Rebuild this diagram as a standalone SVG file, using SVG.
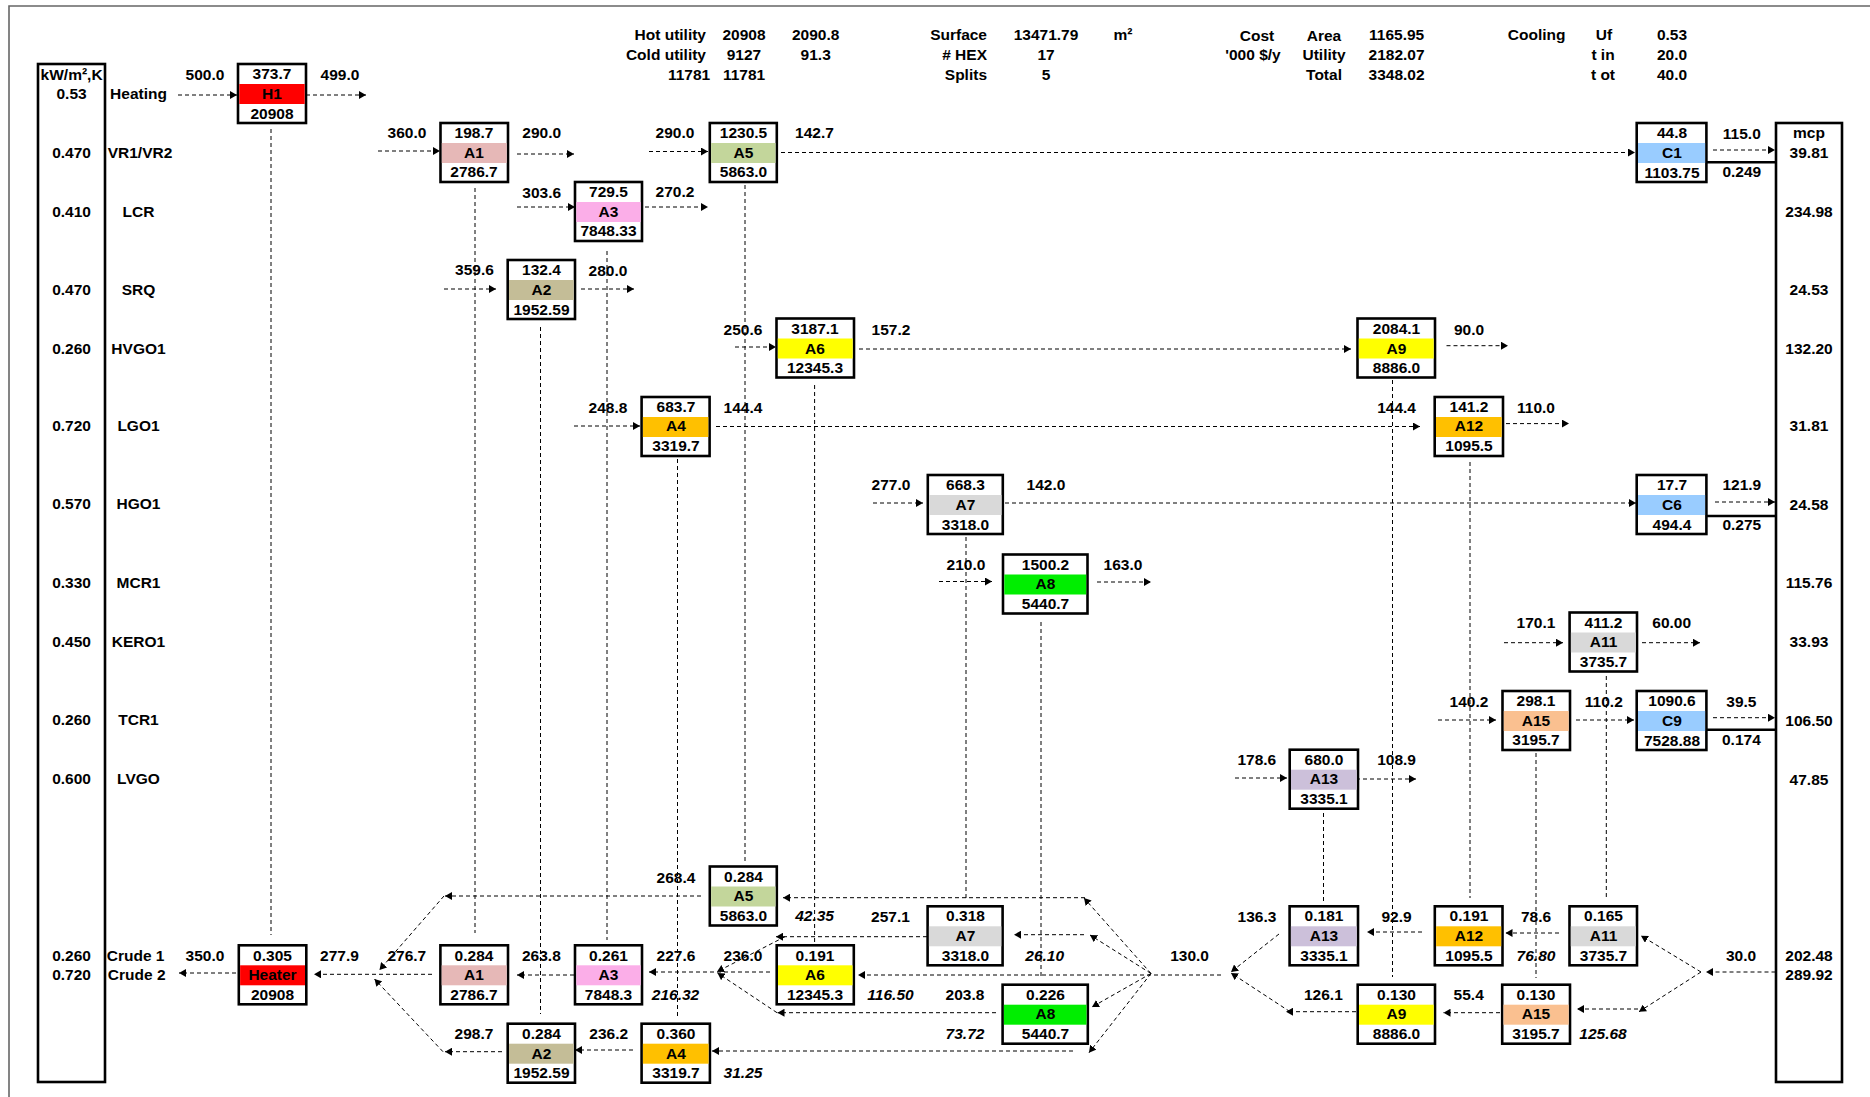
<svg xmlns="http://www.w3.org/2000/svg" width="1870" height="1097" viewBox="0 0 1870 1097">
<style>
text{font-family:"Liberation Sans",Arial,sans-serif;font-weight:bold;font-size:15.5px;fill:#000;text-anchor:middle;dominant-baseline:central;transform:translateY(-1px)}
.e{text-anchor:end}
.i{font-style:italic}
.b{fill:#fff;stroke:#000;stroke-width:2.6}
.c{fill:none;stroke:#000;stroke-width:1;stroke-dasharray:4 3}
.a{marker-end:url(#ah)}
.t{fill:none;stroke:#000;stroke-width:2.6}
</style>
<defs><marker id="ah" markerUnits="userSpaceOnUse" markerWidth="8" markerHeight="8" refX="7" refY="4" orient="auto"><path d="M0 0L7 4L0 8Z" fill="#000"/></marker></defs>
<rect width="1870" height="1097" fill="#fff"/>
<path d="M9 1097V6H1870" fill="none" stroke="#666" stroke-width="1.6"/>
<g id="connectors">
<g class="c">
<path d="M271 129V935M475 188V933M607 251V940M540.5 327V1014M745 185V862M677.5 459V1019M814.6 385V943M966 537V901M1041 622V977M1323.5 813V904M1392.5 380V977M1470 462V898M1536 753V978M1606.3 676V898"/>
</g>
<g class="c a">
<path class="c a" d="M178 95H237"/><path class="c a" d="M306 95H366"/>
<path class="c a" d="M378 151H440"/><path class="c a" d="M517 154H574"/>
<path class="c a" d="M517 207H575"/><path class="c a" d="M645 207H708"/>
<path class="c a" d="M444 289H496"/><path class="c a" d="M581 289H634"/>
<path class="c a" d="M649 151.500H708"/><path class="c a" d="M781 152.500H1635"/><path class="c a" d="M1713 150H1775"/>
<path class="c a" d="M735 347H776"/><path class="c a" d="M859 349H1351"/><path class="c a" d="M1446.500 345.700H1508"/>
<path class="c a" d="M574 426H640"/><path class="c a" d="M716 426.500H1420"/><path class="c a" d="M1506 423.600H1569"/>
<path class="c a" d="M873 503H923"/><path class="c a" d="M1005 503H1636"/><path class="c a" d="M1715 502H1775"/>
<path class="c a" d="M939 581.500H992"/><path class="c a" d="M1097 582H1151"/>
<path class="c a" d="M1504 642.700H1563"/><path class="c a" d="M1642 642.700H1700"/>
<path class="c a" d="M1438 720H1496"/><path class="c a" d="M1576 720H1634"/><path class="c a" d="M1713 717.700H1775"/>
<path class="c a" d="M1235 778H1287"/><path class="c a" d="M1356 779H1416"/>
<path class="c a" d="M236 973H179"/><path class="c a" d="M432 974.300H314"/><path class="c a" d="M574 975H517"/>
<path class="c a" d="M701 896H445"/><path class="c a" d="M444 896L379.500 970"/>
<path class="c a" d="M502 1051.700H445"/><path class="c a" d="M443 1051.700L374.500 979"/>
<path class="c a" d="M633 1050H575"/>
<path class="c a" d="M1085 897.700H783"/><path class="c a" d="M1151 973.500L1084 898"/>
<path class="c a" d="M1084 934.700H1014"/><path class="c a" d="M1151 973.500L1090 935"/>
<path class="c a" d="M1221 975H858"/><path class="c a" d="M1151 973.500L1092 1007"/>
<path class="c a" d="M1073 1051H712"/><path class="c a" d="M1151 973.500L1089 1052.700"/>
<path class="c a" d="M927 936.700H776"/><path class="c a" d="M785 936.700L717 971.700"/>
<path class="c a" d="M770 972H649"/>
<path class="c a" d="M996 1012.700H777.500"/><path class="c a" d="M777 1012.700L717.500 973"/>
<path class="c a" d="M1279 934L1231 972"/>
<path class="c a" d="M1356 1011.700H1286"/><path class="c a" d="M1290 1011.700L1231 973"/>
<path class="c a" d="M1422 932H1367"/><path class="c a" d="M1559 933H1505.500"/><path class="c a" d="M1500 1012.700H1443.500"/>
<path class="c a" d="M1775.500 972H1706"/><path class="c a" d="M1701 972L1641 935.700"/><path class="c a" d="M1701 972L1639 1011.700"/>
<path class="c a" d="M1638 1009H1577"/>
</g>
<path class="t" d="M1706 162.300H1776M1706 516H1776M1706 729.700H1776"/>
</g>
<g id="col-left"><rect class="b" x="38" y="64" width="67" height="1018"/>
<text x="71.600" y="75">kW/m²,K</text><text x="71.600" y="94">0.53</text><text x="71.600" y="153">0.470</text><text x="71.600" y="212">0.410</text><text x="71.600" y="290">0.470</text><text x="71.600" y="349">0.260</text><text x="71.600" y="426.500">0.720</text><text x="71.600" y="504.500">0.570</text><text x="71.600" y="583">0.330</text><text x="71.600" y="642">0.450</text><text x="71.600" y="720.500">0.260</text><text x="71.600" y="779.500">0.600</text><text x="71.600" y="956">0.260</text><text x="71.600" y="975">0.720</text></g>
<g id="col-right"><rect class="b" x="1776" y="123" width="66" height="959"/>
<text x="1809" y="133">mcp</text><text x="1809" y="153">39.81</text><text x="1809" y="212">234.98</text><text x="1809" y="290">24.53</text><text x="1809" y="349">132.20</text><text x="1809" y="426.500">31.81</text><text x="1809" y="505">24.58</text><text x="1809" y="583">115.76</text><text x="1809" y="642.500">33.93</text><text x="1809" y="721">106.50</text><text x="1809" y="780">47.85</text><text x="1809" y="956">202.48</text><text x="1809" y="975">289.92</text></g>
<g id="stream-names"><text x="138.500" y="94">Heating</text><text x="140" y="153">VR1/VR2</text><text x="138.500" y="212">LCR</text><text x="138.500" y="290">SRQ</text><text x="138.500" y="349">HVGO1</text><text x="138.500" y="426.500">LGO1</text><text x="138.500" y="504.500">HGO1</text><text x="138.500" y="583">MCR1</text><text x="138.500" y="642">KERO1</text><text x="138.500" y="720.500">TCR1</text><text x="138.500" y="779.500">LVGO</text><text x="135.600" y="956">Crude 1</text><text x="136.700" y="975">Crude 2</text></g>
<g id="summary">
<text class="e" x="706" y="35">Hot utility</text><text class="e" x="706" y="55">Cold utility</text><text x="689" y="75">11781</text>
<text x="744" y="35">20908</text><text x="744" y="55">9127</text><text x="744" y="75">11781</text><text x="815.700" y="35">2090.8</text><text x="815.700" y="55">91.3</text>
<text class="e" x="987" y="35">Surface</text><text class="e" x="987" y="55"># HEX</text><text class="e" x="987" y="75">Splits</text>
<text x="1046" y="35">13471.79</text><text x="1046" y="55">17</text><text x="1046" y="75">5</text><text x="1123" y="35">m²</text>
<text x="1257" y="36">Cost</text><text x="1253" y="55">'000 $/y</text><text x="1324" y="36">Area</text><text x="1324" y="55">Utility</text><text x="1324" y="75">Total</text>
<text x="1396.600" y="35">1165.95</text><text x="1396.600" y="55">2182.07</text><text x="1396.600" y="75">3348.02</text>
<text x="1536.700" y="35">Cooling</text><text x="1604" y="35">Uf</text><text x="1603" y="55">t in</text><text x="1603" y="75">t ot</text>
<text x="1672" y="35">0.53</text><text x="1672" y="55">20.0</text><text x="1672" y="75">40.0</text>
</g>
<g id="H1"><rect class="b" x="238" y="64" width="68" height="59"/><rect x="239.300" y="84" width="65.400" height="20" fill="#ff0000"/><text x="272" y="74.500">373.7</text><text x="272" y="94">H1</text><text x="272" y="114">20908</text></g>
<g id="A1-hot"><rect class="b" x="440.500" y="123" width="67.500" height="59"/><rect x="441.800" y="143" width="64.900" height="20" fill="#e6b8b7"/><text x="474" y="133">198.7</text><text x="474" y="153">A1</text><text x="474" y="172.500">2786.7</text></g>
<g id="A3-hot"><rect class="b" x="575" y="182" width="67" height="59"/><rect x="576.300" y="202" width="64.400" height="20" fill="#fbaee8"/><text x="608.500" y="192">729.5</text><text x="608.500" y="212">A3</text><text x="608.500" y="231.500">7848.33</text></g>
<g id="A2-hot"><rect class="b" x="507.700" y="260" width="67.300" height="59"/><rect x="509" y="280" width="64.700" height="20" fill="#c4bd97"/><text x="541.500" y="270">132.4</text><text x="541.500" y="290">A2</text><text x="541.500" y="310">1952.59</text></g>
<g id="A5-hot"><rect class="b" x="709.800" y="123" width="67" height="59"/><rect x="711.100" y="143" width="64.400" height="20" fill="#c3d69b"/><text x="743.500" y="133">1230.5</text><text x="743.500" y="153">A5</text><text x="743.500" y="172.500">5863.0</text></g>
<g id="C1"><rect class="b" x="1636.700" y="123" width="69.700" height="59"/><rect x="1638" y="143" width="67.100" height="20" fill="#99ccff"/><text x="1672" y="133">44.8</text><text x="1672" y="153">C1</text><text x="1672" y="173">1103.75</text></g>
<g id="A6-hot"><rect class="b" x="776.500" y="318.500" width="77.500" height="59"/><rect x="777.800" y="338.500" width="74.900" height="20" fill="#ffff00"/><text x="815" y="329">3187.1</text><text x="815" y="349">A6</text><text x="815" y="368.500">12345.3</text></g>
<g id="A9-hot"><rect class="b" x="1357.500" y="318.500" width="77.500" height="59"/><rect x="1358.800" y="338.500" width="74.900" height="20" fill="#ffff00"/><text x="1396.500" y="329">2084.1</text><text x="1396.500" y="349">A9</text><text x="1396.500" y="368.500">8886.0</text></g>
<g id="A4-hot"><rect class="b" x="641.600" y="397" width="68" height="59"/><rect x="642.900" y="417" width="65.400" height="20" fill="#ffc000"/><text x="676" y="407.500">683.7</text><text x="676" y="426.500">A4</text><text x="676" y="446.500">3319.7</text></g>
<g id="A12-hot"><rect class="b" x="1434.700" y="397" width="68.300" height="59"/><rect x="1436" y="417" width="65.700" height="20" fill="#ffc000"/><text x="1469" y="407.500">141.2</text><text x="1469" y="426.500">A12</text><text x="1469" y="446.500">1095.5</text></g>
<g id="A7-hot"><rect class="b" x="927.800" y="475" width="75" height="59"/><rect x="929.100" y="495" width="72.400" height="20" fill="#d9d9d9"/><text x="965.500" y="485.500">668.3</text><text x="965.500" y="505">A7</text><text x="965.500" y="525">3318.0</text></g>
<g id="C6"><rect class="b" x="1636.700" y="475" width="69.700" height="59"/><rect x="1638" y="495" width="67.100" height="20" fill="#99ccff"/><text x="1672" y="485.500">17.7</text><text x="1672" y="505">C6</text><text x="1672" y="525">494.4</text></g>
<g id="A8-hot"><rect class="b" x="1003" y="554.500" width="84.500" height="59"/><rect x="1004.300" y="574.500" width="81.900" height="20" fill="#00ee00"/><text x="1045.500" y="565">1500.2</text><text x="1045.500" y="584">A8</text><text x="1045.500" y="604">5440.7</text></g>
<g id="A11-hot"><rect class="b" x="1569.600" y="612.500" width="67.400" height="59"/><rect x="1570.900" y="632.500" width="64.800" height="20" fill="#d9d9d9"/><text x="1603.500" y="623">411.2</text><text x="1603.500" y="642.500">A11</text><text x="1603.500" y="662">3735.7</text></g>
<g id="A15-hot"><rect class="b" x="1502.500" y="691" width="67.500" height="59"/><rect x="1503.800" y="711" width="64.900" height="20" fill="#fac090"/><text x="1536" y="701.500">298.1</text><text x="1536" y="721">A15</text><text x="1536" y="740.500">3195.7</text></g>
<g id="C9"><rect class="b" x="1636.700" y="691" width="69.700" height="59"/><rect x="1638" y="711" width="67.100" height="20" fill="#99ccff"/><text x="1672" y="701.500">1090.6</text><text x="1672" y="721">C9</text><text x="1672" y="741">7528.88</text></g>
<g id="A13-hot"><rect class="b" x="1289.700" y="749.700" width="68.300" height="59"/><rect x="1291" y="769.700" width="65.700" height="20" fill="#ccc0da"/><text x="1324" y="760">680.0</text><text x="1324" y="779.500">A13</text><text x="1324" y="799">3335.1</text></g>
<g id="Heater"><rect class="b" x="238.800" y="945.300" width="67.500" height="59"/><rect x="240.100" y="965.300" width="64.900" height="20" fill="#ff0000"/><text x="272.500" y="956">0.305</text><text x="272.500" y="975">Heater</text><text x="272.500" y="995">20908</text></g>
<g id="A1-cold"><rect class="b" x="440.400" y="945.300" width="67.600" height="59"/><rect x="441.700" y="965.300" width="65" height="20" fill="#e6b8b7"/><text x="474" y="956">0.284</text><text x="474" y="975">A1</text><text x="474" y="995">2786.7</text></g>
<g id="A3-cold"><rect class="b" x="575" y="945.300" width="67" height="59"/><rect x="576.300" y="965.300" width="64.400" height="20" fill="#fbaee8"/><text x="608.500" y="956">0.261</text><text x="608.500" y="975">A3</text><text x="608.500" y="995">7848.3</text></g>
<g id="A2-cold"><rect class="b" x="507.700" y="1023.700" width="67.300" height="59"/><rect x="509" y="1043.700" width="64.700" height="20" fill="#c4bd97"/><text x="541.500" y="1034">0.284</text><text x="541.500" y="1054">A2</text><text x="541.500" y="1073">1952.59</text></g>
<g id="A4-cold"><rect class="b" x="641.600" y="1023.700" width="68.300" height="59"/><rect x="642.900" y="1043.700" width="65.700" height="20" fill="#ffc000"/><text x="676" y="1034">0.360</text><text x="676" y="1054">A4</text><text x="676" y="1073">3319.7</text></g>
<g id="A5-cold"><rect class="b" x="709.800" y="866.500" width="67" height="59"/><rect x="711.100" y="886.500" width="64.400" height="20" fill="#c3d69b"/><text x="743.500" y="877">0.284</text><text x="743.500" y="896.500">A5</text><text x="743.500" y="916">5863.0</text></g>
<g id="A6-cold"><rect class="b" x="776.700" y="945.300" width="77.100" height="59"/><rect x="778" y="965.300" width="74.500" height="20" fill="#ffff00"/><text x="815" y="956">0.191</text><text x="815" y="975">A6</text><text x="815" y="995">12345.3</text></g>
<g id="A7-cold"><rect class="b" x="927.600" y="906.300" width="75" height="59"/><rect x="928.900" y="926.300" width="72.400" height="20" fill="#d9d9d9"/><text x="965.500" y="916.500">0.318</text><text x="965.500" y="936">A7</text><text x="965.500" y="956">3318.0</text></g>
<g id="A8-cold"><rect class="b" x="1002.600" y="984.700" width="85.200" height="59"/><rect x="1003.900" y="1004.700" width="82.600" height="20" fill="#00ee00"/><text x="1045.500" y="995">0.226</text><text x="1045.500" y="1014.500">A8</text><text x="1045.500" y="1034">5440.7</text></g>
<g id="A13-cold"><rect class="b" x="1289.600" y="906.300" width="68.400" height="59"/><rect x="1290.900" y="926.300" width="65.800" height="20" fill="#ccc0da"/><text x="1324" y="916.500">0.181</text><text x="1324" y="936">A13</text><text x="1324" y="956">3335.1</text></g>
<g id="A12-cold"><rect class="b" x="1434.800" y="906.300" width="67.700" height="59"/><rect x="1436.100" y="926.300" width="65.100" height="20" fill="#ffc000"/><text x="1469" y="916.500">0.191</text><text x="1469" y="936">A12</text><text x="1469" y="956">1095.5</text></g>
<g id="A11-cold"><rect class="b" x="1569.500" y="906.300" width="67.500" height="59"/><rect x="1570.800" y="926.300" width="64.900" height="20" fill="#d9d9d9"/><text x="1603.500" y="916.500">0.165</text><text x="1603.500" y="936">A11</text><text x="1603.500" y="956">3735.7</text></g>
<g id="A9-cold"><rect class="b" x="1357.700" y="984.700" width="77.300" height="59"/><rect x="1359" y="1004.700" width="74.700" height="20" fill="#ffff00"/><text x="1396.500" y="995">0.130</text><text x="1396.500" y="1014.500">A9</text><text x="1396.500" y="1034">8886.0</text></g>
<g id="A15-cold"><rect class="b" x="1502.200" y="984.700" width="67.800" height="59"/><rect x="1503.500" y="1004.700" width="65.200" height="20" fill="#fac090"/><text x="1536" y="995">0.130</text><text x="1536" y="1014.500">A15</text><text x="1536" y="1034">3195.7</text></g>
<g id="temperatures">
<text x="205" y="75">500.0</text><text x="340" y="75">499.0</text><text x="407" y="133">360.0</text><text x="541.700" y="133">290.0</text><text x="541.700" y="193">303.6</text><text x="474.500" y="270">359.6</text><text x="608" y="271">280.0</text><text x="675" y="192.600">270.2</text><text x="675" y="133.500">290.0</text><text x="814.500" y="133.500">142.7</text><text x="1741.800" y="134">115.0</text><text x="1741.800" y="172">0.249</text>
<text x="743" y="330">250.6</text><text x="891" y="330">157.2</text><text x="1469" y="330">90.0</text><text x="608" y="408">248.8</text><text x="743" y="408">144.4</text><text x="1396.600" y="408">144.4</text><text x="1536" y="408">110.0</text>
<text x="891" y="485.500">277.0</text><text x="1046" y="485.500">142.0</text><text x="1741.800" y="485.500">121.9</text><text x="1741.800" y="525">0.275</text><text x="966" y="565">210.0</text><text x="1123" y="565">163.0</text>
<text x="1536" y="623">170.1</text><text x="1671.700" y="623">60.00</text><text x="1469" y="702">140.2</text><text x="1603.800" y="702">110.2</text><text x="1741.400" y="702">39.5</text><text x="1741.400" y="740">0.174</text><text x="1256.800" y="760">178.6</text><text x="1396.600" y="760">108.9</text>
<text x="205" y="956">350.0</text><text x="339.500" y="956">277.9</text><text x="406.800" y="956">276.7</text><text x="541.400" y="956">263.8</text><text x="474" y="1034">298.7</text><text x="608.700" y="1034">236.2</text>
<text x="676" y="878">268.4</text><text class="i" x="814.600" y="916">42.35</text><text x="890.500" y="917">257.1</text><text x="676" y="956">227.6</text><text x="743" y="956">236.0</text><text class="i" x="1044.700" y="956">26.10</text><text x="1189.600" y="956">130.0</text><text class="i" x="675.500" y="995">216.32</text><text class="i" x="890.500" y="995">116.50</text><text x="965" y="995">203.8</text><text class="i" x="965" y="1034">73.72</text><text class="i" x="743" y="1073">31.25</text>
<text x="1257" y="917">136.3</text><text x="1396.500" y="917">92.9</text><text x="1536" y="917">78.6</text><text class="i" x="1536" y="956">76.80</text><text x="1741" y="956">30.0</text><text x="1323.400" y="995">126.1</text><text x="1468.700" y="995">55.4</text><text class="i" x="1603" y="1034">125.68</text>
</g>
</svg>
